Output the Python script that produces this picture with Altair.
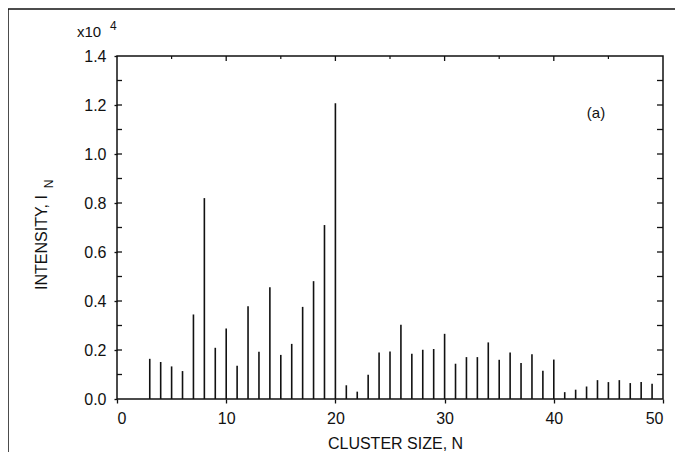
import altair as alt
import pandas as pd

# Cluster size N and intensity I_N (in units of 10^4)
cluster_n = list(range(3, 50))
intensity = [0.164, 0.151, 0.133, 0.114, 0.345, 0.820, 0.209, 0.288, 0.136, 0.379,
             0.193, 0.456, 0.180, 0.225, 0.376, 0.481, 0.710, 1.207, 0.056, 0.030,
             0.099, 0.190, 0.194, 0.303, 0.185, 0.201, 0.204, 0.266, 0.144, 0.171,
             0.171, 0.231, 0.160, 0.190, 0.147, 0.183, 0.115, 0.161, 0.028, 0.038,
             0.051, 0.077, 0.069, 0.077, 0.065, 0.069, 0.062]

x_major = [0, 10, 20, 30, 40, 50]
x_top_major = [10, 20, 30, 40]
x_top_minor = [5, 15, 25, 35, 45]
y_major = [0.0, 0.2, 0.4, 0.6, 0.8, 1.0, 1.2, 1.4]
y_all = [round(0.1 * i, 1) for i in range(1, 14)]

W, H = 546, 343
FONT = "Liberation Sans"
INK = "#111111"

df = pd.DataFrame({"N": cluster_n, "I": intensity})

xs = alt.Scale(domain=[0, 50], nice=False, zero=False)
ys = alt.Scale(domain=[0, 1.4], nice=False)

x_axis = alt.Axis(values=x_major, format="d", tickSize=4, tickColor=INK, tickWidth=1.3,
                  labelPadding=7, labelFontSize=16, labelFont=FONT, labelColor=INK,
                  domain=False, grid=False,
                  title="CLUSTER SIZE, N", titleFont=FONT, titleFontSize=16,
                  titleFontWeight="normal", titleColor=INK,
                  titleX=278, titleY=44, titleBaseline="middle", titleAlign="center")
y_axis = alt.Axis(values=y_major, format=".1f", tickSize=3, tickColor=INK, tickWidth=1.3,
                  labelPadding=8, labelFontSize=16, labelFont=FONT, labelColor=INK,
                  domain=False, grid=False,
                  title="INTENSITY, I", titleFont=FONT, titleFontSize=16,
                  titleFontWeight="normal", titleColor=INK,
                  titleX=-76, titleY=186, titleBaseline="middle", titleAlign="center",
                  titleAngle=270)

stems = alt.Chart(df).mark_rule(color=INK, strokeWidth=1.6).encode(
    x=alt.X("N:Q", scale=xs, axis=x_axis),
    y=alt.Y("I:Q", scale=ys, axis=y_axis),
    y2=alt.datum(0),
)

# inward ticks: left and right every 0.1
yt = pd.DataFrame({"v": y_all})
left_in = alt.Chart(yt).mark_rule(color=INK, strokeWidth=1.3).encode(
    y=alt.Y("v:Q", scale=ys), x=alt.value(0), x2=alt.value(5))
right_in = alt.Chart(yt).mark_rule(color=INK, strokeWidth=1.3).encode(
    y=alt.Y("v:Q", scale=ys), x=alt.value(W - 6), x2=alt.value(W))

# inward ticks on top
top_major = alt.Chart(pd.DataFrame({"v": x_top_major})).mark_rule(color=INK, strokeWidth=1.3).encode(
    x=alt.X("v:Q", scale=xs), y=alt.value(0), y2=alt.value(5))
top_minor = alt.Chart(pd.DataFrame({"v": x_top_minor})).mark_rule(color=INK, strokeWidth=1.2).encode(
    x=alt.X("v:Q", scale=xs), y=alt.value(0), y2=alt.value(3))

# annotations
sub_n = alt.Chart().mark_text(text="N", font=FONT, fontSize=12, color=INK, angle=270).encode(
    x=alt.value(-68), y=alt.value(128))
x10 = alt.Chart().mark_text(text="x10", font=FONT, fontSize=15, color=INK, align="left",
                            baseline="alphabetic").encode(x=alt.value(-40), y=alt.value(-19))
sup4 = alt.Chart().mark_text(text="4", font=FONT, fontSize=12, color=INK, align="left",
                             baseline="alphabetic").encode(x=alt.value(-7), y=alt.value(-26))
label_a = alt.Chart().mark_text(text="(a)", font=FONT, fontSize=15, color=INK).encode(
    x=alt.value(479), y=alt.value(57))

# outer figure frame
frame_left = alt.Chart().mark_rule(color=INK, strokeWidth=1.5).encode(
    x=alt.value(-109), y=alt.value(-47), y2=alt.value(420))
frame_top = alt.Chart().mark_rule(color=INK, strokeWidth=1.5).encode(
    x=alt.value(-109), x2=alt.value(580), y=alt.value(-47))

chart = alt.layer(
    stems, left_in, right_in, top_major, top_minor,
    sub_n, x10, sup4, label_a, frame_left, frame_top,
).properties(
    width=W, height=H,
    autosize=alt.AutoSizeParams(type="none"),
    padding={"left": 109, "top": 48, "right": 12, "bottom": 53},
    background="white",
).configure_view(stroke=INK, strokeWidth=1.5)

chart.save("out.html", embed_options={"renderer": "svg", "actions": False})
